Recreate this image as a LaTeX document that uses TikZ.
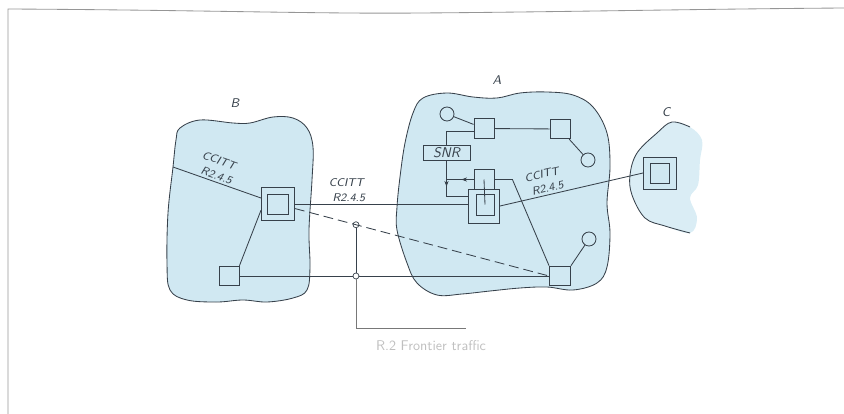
\documentclass[tikz,border=0pt]{standalone}
\usepackage{tikz}
\usetikzlibrary{arrows.meta,positioning,calc,decorations.markings}
\definecolor{netline}{RGB}{55,65,75}
\definecolor{netfill}{RGB}{208,232,242}
\definecolor{framegray}{RGB}{150,150,150}
\definecolor{notegray}{RGB}{120,120,120}

\begin{document}
\begin{tikzpicture}[
    x=0.025cm, y=-0.025cm,
    blob/.style={draw=netline, fill=netfill, line width=0.6pt},
    conn/.style={draw=netline, line width=0.6pt},
    outsq/.style={
      draw=netline, fill=netfill, line width=0.7pt, inner sep=0pt,
      minimum width=0.825cm, minimum height=0.825cm
    },
    insq/.style={
      draw=netline, fill=netfill, line width=0.7pt, inner sep=0pt,
      minimum width=0.5cm, minimum height=0.5cm
    },
    sq/.style={
      draw=netline, fill=netfill, line width=0.6pt, inner sep=0pt,
      minimum width=0.5cm, minimum height=0.49cm
    },
    stn/.style={
      circle, draw=netline, fill=netfill, line width=0.6pt,
      minimum size=0.35cm, inner sep=0pt
    },
    jn/.style={
      circle, solid, draw=netline, line width=0.5pt,
      minimum size=0.15cm, inner sep=0pt
    },
    snrbox/.style={
      draw=netline, fill=netfill, line width=0.7pt, inner sep=0pt,
      minimum width=1.175cm, minimum height=0.36cm,
      font=\sffamily\slshape, text=netline
    },
    lbl/.style={
      font=\sffamily\slshape\footnotesize, text=netline,
      align=left, inner sep=1.5pt
    },
    netname/.style={font=\sffamily\slshape\small, text=netline},
    midarrow/.style={
      postaction={decorate},
      decoration={markings,
        mark=at position #1 with {\arrow{Stealth[length=4pt,width=3pt]}}}
    }
  ]
  \useasboundingbox (0,0) rectangle (844,414);

  %% frame
  \draw[framegray, line width=0.6pt] (8,414) -- (8,9)
    .. controls (200,10) and (320,14) .. (420,13)
    .. controls (560,12) and (700,9) .. (844,8);

  %% networks
  \draw[blob] plot[smooth cycle, tension=0.6] coordinates {
    (180,128) (200,120) (233,123) (250,123) (273,117) (293,118)
    (307,128) (313,147) (312,180) (309,230) (310,267) (307,290)
    (293,298) (267,302) (243,300) (217,302) (187,300) (170,290)
    (167,263) (168,213) (173,167) (176,140)};
  \draw[blob] plot[smooth cycle, tension=0.6] coordinates {
    (423,98) (447,93) (473,97) (497,98) (520,93) (547,92)
    (573,95) (593,107) (607,133) (610,167) (607,203) (610,233)
    (607,267) (597,283) (573,290) (547,287) (520,288) (490,291)
    (462,294) (437,295) (417,283) (407,263) (397,230) (397,207)
    (400,177) (405,143) (413,113)};
  \fill[netfill!80] plot[smooth cycle, tension=0.6] coordinates {
    (690,127) (672,122) (657,133) (637,153) (630,175) (632,195)
    (645,218) (665,226) (690,233) (697,218) (690,198) (698,185)
    (700,160) (702,140)};
  \draw[conn] plot[smooth, tension=0.6] coordinates {
    (690,127) (672,122) (657,133) (637,153) (630,175) (632,195)
    (645,218) (665,226) (690,233)};

  \node[netname] (nameB) at (235,103) {B};
  \node[netname] (nameA) at (497,80) {A};
  \node[netname] (nameC) at (666,112) {C};

  %% network B
  \node[outsq] (bsw) at (278,204) {};
  \node[insq, minimum width=0.525cm] (bswin) at (bsw) {};
  \node[sq] (bsub) at (229,276) {};
  \coordinate (bedge) at (173,167);

  %% network A
  \node[stn] (acir1) at (447,114) {};
  \node[sq] (asq1) at (484,128.5) {};
  \node[sq] (asq2) at (560,129) {};
  \node[stn] (acir2) at (588,160) {};
  \node[snrbox] (snr) at (446.5,153) {SNR};
  \node[sq, minimum height=0.525cm] (actl) at (484,179.5) {};
  \node[outsq, minimum width=0.775cm, minimum height=0.85cm] (asw) at (484,206) {};
  \node[insq, minimum width=0.45cm, minimum height=0.525cm] (aswin) at (485,204.5) {};
  \node[sq, minimum width=0.525cm] (asq3) at (560,276) {};
  \node[stn] (acir3) at (589,239) {};

  %% network C
  \node[outsq, minimum height=0.8cm] (csw) at (660,173) {};
  \node[insq, minimum width=0.475cm] (cswin) at (660,173) {};

  %% connectors in B
  \draw[conn] (bedge) -- node[lbl, sloped, above, pos=0.45] {CCITT\\[1pt]\ R2.4.5} (bsw);
  \draw[conn] (bsw.200) -- (bsub.north east);

  %% connectors in A
  \draw[conn] (acir1) -- (asq1);
  \draw[conn] (asq1) -- (asq2);
  \draw[conn] (asq2) -- (acir2);
  \draw[conn] (asq1.195) -| (snr.north);
  \draw[conn, midarrow=0.45] (snr.south) |- (asw.150);
  \draw[conn, midarrow=0.45] (actl.west) -- (actl.west -| snr.south);
  \draw[conn] (actl.east) -- ++(18,0) -- (asq3.north west);
  \draw[conn] (actl.center) -- (aswin.center);
  \draw[conn] (asq3.north east) -- (acir3);

  %% connectors between networks
  \draw[conn] (bsw.east) -- node[lbl, above, pos=0.3] {CCITT\\[1pt]\ R2.4.5} (bsw.east -| asw.west);
  \draw[conn] (asw.east) -- node[lbl, sloped, above, pos=0.33] {CCITT\\[1pt]\ R2.4.5} (csw.west);
  \draw[conn, dashed, dash pattern=on 7pt off 3.5pt]
    (bsw.-15) -- node[jn, pos=0.24] (jn1) {} (asq3.west);
  \node[jn] (jn2) at (jn1 |- bsub.east) {};
  \draw[conn] (bsub.east) -- (jn2) -- (asq3.west);

  %% frontier traffic
  \coordinate (fend) at (466,328);
  \draw[conn] (jn1) -- (jn2);
  \draw[notegray, line width=0.5pt] (jn2) |- (fend);
  \node[font=\sffamily, text=black!25] (ftext) at (431,346) {R.2 Frontier traffic};
\end{tikzpicture}
\end{document}
